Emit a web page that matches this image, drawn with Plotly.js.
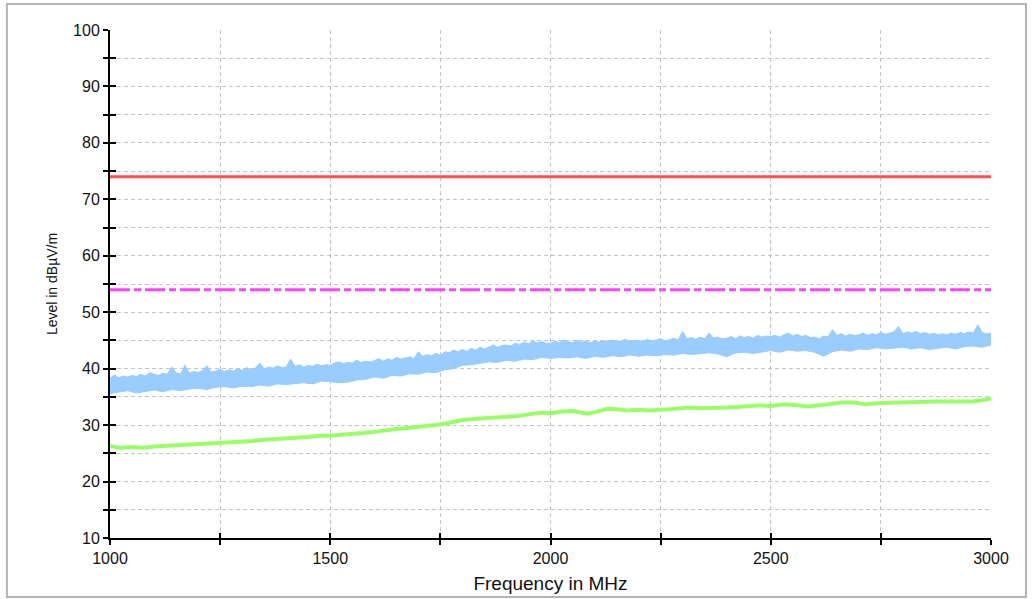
<!DOCTYPE html>
<html>
<head>
<meta charset="utf-8">
<script src="https://cdn.plot.ly/plotly-3.0.1.min.js"></script>
<style>
html,body{margin:0;padding:0;background:#fff;}
#chart{width:1033px;height:599px;}
</style>
</head>
<body>
<div id="chart"></div>
<script>
// ---- Data ----
const xTickVals = [1000, 1500, 2000, 2500, 3000];
const yTickVals = [10, 20, 30, 40, 50, 60, 70, 80, 90, 100];

const limitFreq = [1000, 3000];
const peakLimit = [74, 74];
const avgLimit = [54, 54];

// Peak trace: upper edge of the noisy band
const peakTopFreq = [
1000,1010,1020,1030,1040,1050,1060,1070,1080,1090,
1100,1110,1120,1130,1140,1150,1160,1170,1180,1190,
1200,1210,1220,1230,1240,1250,1260,1270,1280,1290,
1300,1310,1320,1330,1340,1350,1360,1370,1380,1390,
1400,1410,1420,1430,1440,1450,1460,1470,1480,1490,
1500,1510,1520,1530,1540,1550,1560,1570,1580,1590,
1600,1610,1620,1630,1640,1650,1660,1670,1680,1690,
1700,1710,1720,1730,1740,1750,1760,1770,1780,1790,
1800,1810,1820,1830,1840,1850,1860,1870,1880,1890,
1900,1910,1920,1930,1940,1950,1960,1970,1980,1990,
2000,2010,2020,2030,2040,2050,2060,2070,2080,2090,
2100,2110,2120,2130,2140,2150,2160,2170,2180,2190,
2200,2210,2220,2230,2240,2250,2260,2270,2280,2290,
2300,2310,2320,2330,2340,2350,2360,2370,2380,2390,
2400,2410,2420,2430,2440,2450,2460,2470,2480,2490,
2500,2510,2520,2530,2540,2550,2560,2570,2580,2590,
2600,2610,2620,2630,2640,2650,2660,2670,2680,2690,
2700,2710,2720,2730,2740,2750,2760,2770,2780,2790,
2800,2810,2820,2830,2840,2850,2860,2870,2880,2890,
2900,2910,2920,2930,2940,2950,2960,2970,2980,2990,
3000];
const peakTopLevel = [
38.3,38.9,38.4,38.7,38.5,38.8,38.6,39.0,38.7,39.3,
39.0,38.8,39.2,39.0,40.3,39.3,39.0,40.6,39.2,39.5,
39.3,39.7,40.5,39.4,39.6,39.9,39.5,39.8,39.6,40.0,
39.7,40.2,39.8,40.1,41.0,40.0,40.3,40.1,40.5,40.2,
40.3,41.7,40.4,40.7,40.3,40.6,40.4,40.8,40.5,40.7,
40.6,41.0,41.2,40.9,41.1,41.0,41.5,41.1,41.3,41.2,
41.4,41.8,41.3,41.7,41.5,42.0,41.7,41.9,42.1,41.8,
43.0,42.2,42.5,42.3,42.7,42.4,43.0,42.8,43.3,43.0,
43.4,43.1,43.6,43.3,43.8,43.5,43.9,44.2,43.8,44.1,
44.2,44.0,44.5,44.3,44.7,44.4,44.9,44.6,44.8,44.5,
44.5,44.9,44.6,45.1,44.8,44.6,45.0,44.7,44.9,44.6,
44.9,44.7,45.0,44.8,45.1,44.8,44.9,45.2,44.8,45.0,
45.0,44.8,45.2,44.9,45.1,45.3,44.9,45.2,45.4,45.1,
46.6,45.3,45.5,45.2,45.6,45.3,46.3,45.4,45.6,45.3,
45.4,45.7,45.3,45.8,45.5,45.7,45.4,45.9,45.6,45.8,
45.7,45.9,45.6,46.0,46.3,45.8,46.1,45.7,45.9,45.5,
45.6,45.3,45.8,45.6,46.9,45.9,46.2,45.8,46.1,45.9,
46.0,46.3,45.9,46.2,46.0,46.4,46.1,46.3,46.5,47.5,
46.2,46.5,46.3,46.6,46.2,46.4,46.1,46.3,46.0,46.2,
46.0,46.3,46.1,46.4,46.2,46.5,46.3,47.8,46.4,46.2,
46.3];

// Peak trace: lower edge of the noisy band
const peakLowFreq = [
1000,1020,1040,1060,1080,1100,1120,1140,1160,1180,
1200,1220,1240,1260,1280,1300,1320,1340,1360,1380,
1400,1420,1440,1460,1480,1500,1520,1540,1560,1580,
1600,1620,1640,1660,1680,1700,1720,1740,1760,1780,
1800,1820,1840,1860,1880,1900,1920,1940,1960,1980,
2000,2020,2040,2060,2080,2100,2120,2140,2160,2180,
2200,2220,2240,2260,2280,2300,2320,2340,2360,2380,
2400,2420,2440,2460,2480,2500,2520,2540,2560,2580,
2600,2620,2640,2660,2680,2700,2720,2740,2760,2780,
2800,2820,2840,2860,2880,2900,2920,2940,2960,2980,
3000];
const peakLowLevel = [
35.6,35.9,36.1,35.7,36.0,36.2,35.9,36.3,36.1,36.4,
36.5,36.3,36.7,36.8,36.6,36.9,36.8,37.1,36.9,37.3,
37.2,37.4,37.5,37.3,37.8,37.7,37.5,37.6,38.0,38.1,
38.5,38.3,38.8,38.7,39.1,39.0,39.4,39.3,39.8,40.0,
40.6,40.7,41.0,41.2,41.1,41.5,41.3,41.7,41.6,42.0,
41.8,42.0,41.9,42.1,41.8,42.2,42.0,42.3,42.1,42.4,
42.2,42.4,42.3,42.5,42.4,42.7,42.5,42.6,42.8,42.6,
42.1,42.8,42.9,42.7,43.0,43.2,42.9,43.3,43.1,43.2,
42.9,42.2,43.0,43.3,43.1,43.5,43.4,43.7,43.5,43.6,
43.8,43.5,43.7,43.4,43.6,43.8,43.5,43.9,44.0,43.8,
44.2];

// Average trace
const avgFreq = [1000,1020,1050,1075,1100,1125,1150,1175,1200,1225,1250,1275,1300,1325,1350,1375,1400,1425,1450,1475,1500,1525,1550,1575,1600,1625,1650,1675,1700,1725,1750,1775,1800,1825,1850,1875,1900,1925,1950,1975,2000,2025,2050,2062,2085,2100,2130,2150,2175,2200,2225,2250,2275,2300,2318,2340,2364,2400,2425,2450,2477,2500,2530,2560,2584,2610,2640,2660,2690,2713,2750,2790,2830,2880,2920,2956,2980,3000];
const avgLevel = [26.3,26.0,26.1,26.0,26.2,26.3,26.5,26.5,26.7,26.8,26.9,27.0,27.1,27.2,27.4,27.5,27.6,27.8,27.9,28.1,28.1,28.3,28.4,28.6,28.8,29.1,29.3,29.5,29.7,29.9,30.1,30.5,30.9,31.1,31.2,31.3,31.4,31.6,31.9,32.2,32.1,32.4,32.5,32.3,32.0,32.3,32.9,32.8,32.6,32.7,32.6,32.7,32.8,32.9,33.1,33.0,33.0,33.1,33.2,33.3,33.5,33.4,33.7,33.5,33.3,33.5,33.8,34.0,34.0,33.7,33.9,34.0,34.2,34.2,34.2,34.2,34.4,34.7];

// ---- Styles ----
const FONT = 'Liberation Sans, Arial, sans-serif';
const GRID = '#c4c4c4';
const BLUE = '#99ccff';

const traces = [
  {x: peakLowFreq, y: peakLowLevel, type: 'scatter', mode: 'lines',
   line: {color: BLUE, width: 1}, hoverinfo: 'skip', showlegend: false},
  {x: peakTopFreq, y: peakTopLevel, type: 'scatter', mode: 'lines',
   line: {color: BLUE, width: 1}, fill: 'tonexty', fillcolor: BLUE, showlegend: false},
  {x: avgFreq, y: avgLevel, type: 'scatter', mode: 'lines',
   line: {color: '#99ff66', width: 4}, showlegend: false},
  {x: limitFreq, y: peakLimit, type: 'scatter', mode: 'lines', xaxis: 'x2', yaxis: 'y2',
   line: {color: '#ff5050', width: 3}, showlegend: false},
  {x: limitFreq, y: avgLimit, type: 'scatter', mode: 'lines', xaxis: 'x2', yaxis: 'y2',
   line: {color: '#ff44ff', width: 3, dash: '20px,4px,7px,4px'}, showlegend: false}
];

const layout = {
  width: 1033, height: 599,
  margin: {l: 110, r: 42, t: 30, b: 61},
  paper_bgcolor: '#ffffff', plot_bgcolor: '#ffffff',
  font: {family: FONT, color: '#000', size: 16},
  showlegend: false,
  xaxis: {
    range: [1000, 3000], tickmode: 'array', tickvals: xTickVals,
    ticks: 'outside', ticklen: 5, tickwidth: 2, tickcolor: '#000',
    showline: true, linecolor: '#000', linewidth: 2,
    showgrid: true, gridcolor: GRID, griddash: '4px,3px', gridwidth: 1,
    zeroline: false,
    minor: {dtick: 250, tick0: 1000, ticks: 'outside', ticklen: 5, tickwidth: 2, tickcolor: '#000',
            showgrid: true, gridcolor: GRID, griddash: '4px,3px', gridwidth: 1},
    tickfont: {family: FONT, size: 16, color: '#111'},
    title: {text: 'Frequency in MHz', font: {family: FONT, size: 19, color: '#111'}, standoff: 10}
  },
  yaxis: {
    range: [10, 100], tickmode: 'array', tickvals: yTickVals,
    ticks: 'outside', ticklen: 5, tickwidth: 2, tickcolor: '#000',
    showline: true, linecolor: '#000', linewidth: 2,
    showgrid: true, gridcolor: GRID, griddash: '4px,3px', gridwidth: 1,
    zeroline: false,
    minor: {dtick: 5, tick0: 10, ticks: 'outside', ticklen: 5, tickwidth: 2, tickcolor: '#000',
            showgrid: true, gridcolor: GRID, griddash: '4px,3px', gridwidth: 1},
    tickfont: {family: FONT, size: 16, color: '#111'},
    title: {text: 'Level in dBµV/m', font: {family: FONT, size: 14, color: '#111'}, standoff: 12}
  },
  xaxis2: {
    range: [1000, 3000], overlaying: 'x', anchor: 'y2',
    tickmode: 'linear', tick0: 1000, dtick: 250,
    ticks: 'inside', ticklen: 5, tickwidth: 2, tickcolor: '#000',
    showticklabels: false, showgrid: false, zeroline: false, showline: false
  },
  yaxis2: {
    range: [10, 100], overlaying: 'y', anchor: 'x2', side: 'left',
    tickmode: 'linear', tick0: 10, dtick: 5,
    ticks: 'inside', ticklen: 6, tickwidth: 2, tickcolor: '#000',
    showticklabels: false, showgrid: false, zeroline: false, showline: false
  },
  shapes: [
    {type: 'rect', xref: 'paper', yref: 'paper',
     x0: -0.117, x1: 1.0397, y0: -0.1161, y1: 1.0512,
     line: {color: '#b4b4b4', width: 2}, fillcolor: 'rgba(0,0,0,0)', layer: 'below'}
  ]
};

Plotly.newPlot('chart', traces, layout, {staticPlot: true, displayModeBar: false});
</script>
</body>
</html>
